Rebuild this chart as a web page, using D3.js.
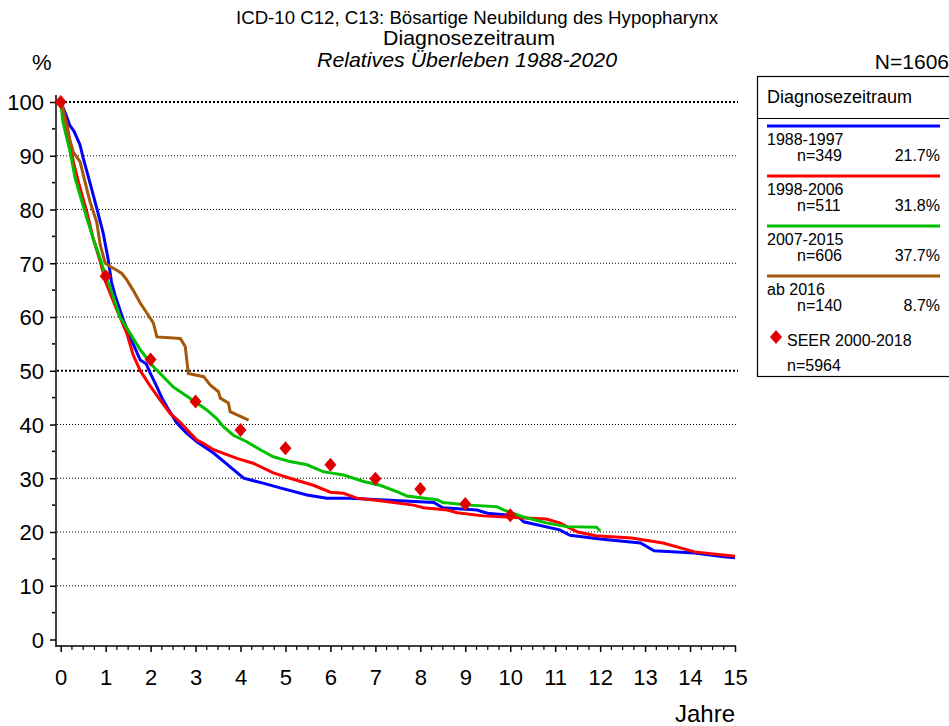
<!DOCTYPE html>
<html><head><meta charset="utf-8">
<script src="https://cdn.jsdelivr.net/npm/d3@7"></script>
<style>
body{margin:0;background:#fff;}
text{font-family:"Liberation Sans",Arial,sans-serif;fill:#000;}
</style></head>
<body><svg id="c" width="949" height="726"></svg>
<script>
// ---- data ----
const seriesNames = ["1988-1997","1998-2006","2007-2015","ab 2016"];
const seriesN = ["n=349","n=511","n=606","n=140"];
const seriesPct = ["21.7%","31.8%","37.7%","8.7%"];
const seriesColors = ["#0000ff","#ff0000","#00c000","#a3580a"];
const blue = [[0,100],[0.1,98],[0.2,95.7],[0.3,94.5],[0.43,92],[0.5,89.6],[0.65,85],[0.8,80.3],[0.94,75.8],[1.05,71],[1.13,66.5],[1.21,64],[1.4,59.3],[1.6,55.2],[1.77,52],[1.9,51.3],[1.99,49.6],[2.1,47.7],[2.25,45],[2.36,43.3],[2.58,40.3],[2.8,38.4],[3.03,36.8],[3.4,34.7],[3.77,32.1],[4.07,30],[4.5,29.1],[4.88,28.2],[5.48,26.9],[5.92,26.3],[6.44,26.3],[7.1,26],[8.3,25.5],[8.5,24.5],[9.26,24.1],[9.49,23.5],[10.16,23],[10.3,21.9],[11.1,20.4],[11.33,19.4],[12,18.7],[12.9,17.95],[13.2,16.5],[14.1,16.1],[14.75,15.4],[15,15.2]];
const red = [[0,100],[0.13,96.3],[0.28,88.9],[0.43,84],[0.58,79.6],[0.72,74.7],[0.88,70.3],[1.0,66.5],[1.25,61.3],[1.47,57],[1.61,53],[1.77,50],[1.99,47.2],[2.21,44.6],[2.43,42.1],[2.66,40.4],[2.88,38.4],[3.03,37.1],[3.17,36.5],[3.4,35.3],[3.92,33.7],[4.28,32.8],[4.73,31],[5.1,30],[5.62,28.7],[6,27.4],[6.29,27.2],[6.59,26.3],[7.1,25.8],[7.85,25],[8.07,24.5],[8.6,24.1],[8.82,23.6],[9.4,23],[10.07,22.7],[10.8,22.4],[11.1,21.7],[11.5,20],[11.9,19.3],[12.7,18.9],[13.4,17.95],[14.1,16.3],[14.9,15.6],[15,15.5]];
const green = [[0,100],[0.05,96.3],[0.21,90.7],[0.32,85.9],[0.43,82.7],[0.58,78.4],[0.72,74.7],[0.88,70.8],[0.99,67.8],[1.1,65.5],[1.32,60],[1.54,57],[1.77,53.9],[2.06,50.8],[2.28,48.9],[2.5,47],[2.66,46.1],[3.03,44],[3.25,42.7],[3.47,41.1],[3.62,39.6],[3.84,38],[4.14,36.8],[4.44,35.3],[4.73,34],[5.1,33.1],[5.48,32.5],[5.85,31.2],[6.0,31],[6.29,30.6],[6.74,29.4],[7.1,28.7],[7.48,27.5],[7.7,26.7],[8.37,26],[8.5,25.5],[9.11,25],[9.7,24.7],[9.85,24.1],[10.3,22.8],[10.8,21.7],[11.25,21],[11.92,20.9],[12,20.2]];
const brown = [[0,100],[0.05,98.8],[0.17,93.9],[0.28,90.7],[0.43,88.9],[0.54,85.2],[0.65,81.5],[0.8,77.7],[0.88,73.4],[0.99,70],[1.1,69.4],[1.25,68.7],[1.36,68.1],[1.47,66.9],[1.61,65],[1.77,62.6],[1.92,60.7],[2.06,58.9],[2.14,56.3],[2.66,56],[2.77,54.5],[2.84,49.5],[3.18,48.9],[3.33,47.3],[3.51,46.1],[3.55,44.9],[3.73,44],[3.77,42.4],[4.18,40.8]];
const seerYears = [0,1,2,3,4,5,6,7,8,9,10];
const seerValues = [100,67.6,52.1,44.3,39,35.6,32.5,29.9,28,25.2,23.1];
const xTicks = d3.range(0,16);
const yTicks = [0,10,20,30,40,50,60,70,80,90,100];
const titleLines = ["ICD-10 C12, C13: Bösartige Neubildung des Hypopharynx","Diagnosezeitraum","Relatives Überleben 1988-2020"];

// ---- drawing ----
const svg = d3.select("#c");
const x = d3.scaleLinear([0,15],[60.7,735]);
const y = d3.scaleLinear([0,100],[639.5,102]);

// titles
svg.append("text").attr("x",477).attr("y",24).attr("text-anchor","middle").style("font-size","18.5px").attr("textLength",482).attr("lengthAdjust","spacingAndGlyphs").text(titleLines[0]);
svg.append("text").attr("x",469).attr("y",45).attr("text-anchor","middle").style("font-size","21px").attr("textLength",172).attr("lengthAdjust","spacingAndGlyphs").text(titleLines[1]);
svg.append("text").attr("x",467).attr("y",67).attr("text-anchor","middle").style("font-size","21px").style("font-style","italic").attr("textLength",300).attr("lengthAdjust","spacingAndGlyphs").text(titleLines[2]);
svg.append("text").attr("x",32).attr("y",70).style("font-size","22px").text("%");
svg.append("text").attr("x",949).attr("y",69).attr("text-anchor","end").style("font-size","21px").text("N=1606");

// gridlines
svg.append("g").selectAll("line").data(yTicks.filter(v=>v>0)).join("line")
  .attr("x1",57).attr("x2",738).attr("y1",d=>y(d)).attr("y2",d=>y(d))
  .attr("stroke","#000")
  .attr("stroke-width",d=>(d===100||d===50)?2:1)
  .attr("stroke-dasharray",d=>(d===100||d===50)?"2,2":"1,2");

// axes
const yAx = svg.append("g").attr("transform","translate(56,0)")
  .call(d3.axisLeft(y).tickValues(yTicks).tickSize(6).tickPadding(6).tickFormat(d3.format("d")));
yAx.select(".domain").remove();
yAx.selectAll("text").style("font-size","22px").style("font-family","Liberation Sans, Arial, sans-serif").attr("dy","0.36em");
yAx.selectAll("line").attr("stroke-width",1.5);
svg.append("g").selectAll("line").data(d3.range(5,100,10)).join("line")
  .attr("x1",52).attr("x2",55).attr("y1",d=>y(d)).attr("y2",d=>y(d)).attr("stroke","#000").attr("stroke-width",1.5);
svg.append("line").attr("x1",56).attr("x2",56).attr("y1",95).attr("y2",647).attr("stroke","#000").attr("stroke-width",1.5);

const xAx = svg.append("g").attr("transform","translate(0,646)")
  .call(d3.axisBottom(x).tickValues(xTicks).tickSize(6).tickPadding(17).tickFormat(d3.format("d")));
xAx.select(".domain").remove();
xAx.selectAll("text").style("font-size","22px").style("font-family","Liberation Sans, Arial, sans-serif");
xAx.selectAll("line").attr("stroke-width",1.5);
const minor = d3.range(0,15.01,0.25).filter(v=>Math.abs(v-Math.round(v))>0.01);
svg.append("g").selectAll("line").data(minor).join("line")
  .attr("x1",d=>x(d)).attr("x2",d=>x(d)).attr("y1",646).attr("y2",650).attr("stroke","#000").attr("stroke-width",1.2);
svg.append("line").attr("x1",56).attr("x2",736).attr("y1",646).attr("y2",646).attr("stroke","#000").attr("stroke-width",1.5);
svg.append("text").attr("x",735).attr("y",722).attr("text-anchor","end").style("font-size","24px").text("Jahre");

// curves
const line = d3.line().x(d=>x(d[0])).y(d=>y(d[1]));
[blue,red,green,brown].forEach((s,i)=>{
  svg.append("path").datum(s).attr("d",line).attr("fill","none")
    .attr("stroke",seriesColors[i]).attr("stroke-width",3).attr("stroke-linejoin","miter");
});

// SEER diamonds
const diamond = "M0,-7L6,0L0,7L-6,0Z";
svg.append("g").selectAll("path").data(seerYears).join("path")
  .attr("transform",(d,i)=>`translate(${x(d)},${y(seerValues[i])})`)
  .attr("d",diamond).attr("fill","#e00000");

// legend
const lg = svg.append("g");
lg.append("rect").attr("x",757.5).attr("y",76.5).attr("width",200).attr("height",300).attr("fill","none").attr("stroke","#000").attr("stroke-width",1.2);
lg.append("line").attr("x1",757.5).attr("x2",949).attr("y1",118.5).attr("y2",118.5).attr("stroke","#000").attr("stroke-width",1.2);
lg.append("text").attr("x",767).attr("y",103).style("font-size","18px").text("Diagnosezeitraum");
seriesNames.forEach((nm,i)=>{
  const by = 126 + i*50;
  lg.append("line").attr("x1",767).attr("x2",940).attr("y1",by).attr("y2",by).attr("stroke",seriesColors[i]).attr("stroke-width",3);
  lg.append("text").attr("x",767).attr("y",by+19).style("font-size","16px").text(nm);
  lg.append("text").attr("x",797).attr("y",by+35).style("font-size","16px").text(seriesN[i]);
  lg.append("text").attr("x",940).attr("y",by+35).attr("text-anchor","end").style("font-size","16px").text(seriesPct[i]);
});
lg.append("path").attr("d",diamond).attr("transform","translate(776,337)").attr("fill","#e00000");
lg.append("text").attr("x",787).attr("y",346).style("font-size","16px").text("SEER 2000-2018");
lg.append("text").attr("x",787).attr("y",371).style("font-size","16px").text("n=5964");
</script></body></html>
